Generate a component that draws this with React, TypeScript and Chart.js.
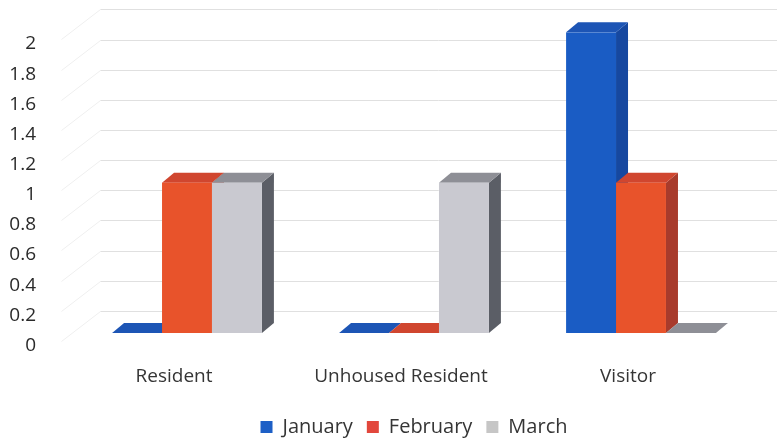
import React, { useEffect, useRef } from 'react';
import { Chart, registerables } from 'chart.js';

Chart.register(...registerables);

const categories = ['Resident', 'Unhoused Resident', 'Visitor'];
const seriesNames = ['January', 'February', 'March'];
const januaryValues = [0, 0, 2];
const februaryValues = [1, 0, 1];
const marchValues = [1, 1, 0];
const yTickValues = [0, 0.2, 0.4, 0.6, 0.8, 1, 1.2, 1.4, 1.6, 1.8, 2];
const yTickLabels = ['0', '0.2', '0.4', '0.6', '0.8', '1', '1.2', '1.4', '1.6', '1.8', '2'];
const wallTop = 2.2;

const FRONT = ['#1a5cc4', '#e8532b', '#c9c9d0'];
const TOP = ['#1d55b5', '#d0462f', '#8e8f96'];
const SIDE = ['#1648a0', '#a83b2c', '#5b5e66'];
const LEGEND = ['#1d5fc6', '#e2473c', '#c6c6c6'];
const TEXT = '#353535';
const FONT = '"Open Sans", sans-serif';
const DX = 12;
const DY = -10;

function poly(ctx: CanvasRenderingContext2D, color: string, pts: number[][]) {
  ctx.fillStyle = color;
  ctx.beginPath();
  ctx.moveTo(pts[0][0], pts[0][1]);
  for (let k = 1; k < pts.length; k++) ctx.lineTo(pts[k][0], pts[k][1]);
  ctx.closePath();
  ctx.fill();
}

const bar3dPlugin = {
  id: 'bar3d',
  beforeDatasetsDraw(chart: any) {
    const { ctx, chartArea } = chart;
    const wall = chart.scales.y2;
    const backLeft = chartArea.left + 27;
    ctx.save();
    ctx.lineWidth = 1;
    [...yTickValues, wallTop].forEach((v) => {
      if (v <= 0) return;
      const y = Math.round(wall.getPixelForValue(v)) + 0.5;
      ctx.strokeStyle = '#efefef';
      ctx.beginPath();
      ctx.moveTo(backLeft - 39, y + 30);
      ctx.lineTo(backLeft, y);
      ctx.stroke();
      ctx.strokeStyle = '#e0e0e0';
      ctx.beginPath();
      ctx.moveTo(backLeft, y);
      ctx.lineTo(chart.width, y);
      ctx.stroke();
    });
    const metas = chart
      .getSortedVisibleDatasetMetas()
      .slice()
      .sort((a: any, b: any) => a.index - b.index);
    for (let j = 0; j < categories.length; j++) {
      metas.forEach((meta: any) => {
        const el = meta.data[j];
        if (!el) return;
        const { x, y, base, width } = el.getProps(['x', 'y', 'base', 'width'], true);
        const i = meta.index;
        const l = x - width / 2;
        const r = x + width / 2;
        const t = Math.min(y, base);
        const b = Math.max(y, base);
        poly(ctx, SIDE[i], [[r, t], [r + DX, t + DY], [r + DX, b + DY], [r, b]]);
        poly(ctx, TOP[i], [[l, t], [l + DX, t + DY], [r + DX, t + DY], [r, t]]);
        ctx.fillStyle = FRONT[i];
        ctx.fillRect(l, t, width, b - t);
      });
    }
    ctx.restore();
    return false;
  },
};

export default function App() {
  const ref = useRef<HTMLCanvasElement | null>(null);
  useEffect(() => {
    if (!ref.current) return;
    const seriesValues = [januaryValues, februaryValues, marchValues];
    const chart = new Chart(ref.current, {
      type: 'bar',
      data: {
        labels: categories,
        datasets: seriesNames.map((name, i) => ({
          label: name,
          data: seriesValues[i],
          backgroundColor: LEGEND[i],
          borderWidth: 0,
        })),
      },
      options: {
        responsive: true,
        maintainAspectRatio: false,
        animation: false,
        layout: { padding: { top: 9, right: 22.5, bottom: 0, left: 0 } },
        datasets: { bar: { categoryPercentage: 0.66, barPercentage: 1 } },
        scales: {
          x: {
            type: 'category',
            grid: { display: false, drawTicks: false },
            border: { display: false },
            ticks: {
              labelOffset: -13,
              padding: 24,
              color: TEXT,
              maxRotation: 0,
              autoSkip: false,
              font: { family: FONT, size: 19 },
            },
            afterFit: (s: any) => {
              s.height = 62;
            },
          },
          y: {
            display: true,
            position: 'left',
            weight: 0,
            min: -0.0532,
            max: 2.1262,
            grid: { display: false, drawTicks: false },
            border: { display: false },
            ticks: { display: false },
            afterFit: (s: any) => {
              s.width = 35.5;
            },
          },
          y2: {
            type: 'linear',
            position: 'left',
            weight: 10,
            min: 0,
            max: 2.1735,
            grid: { display: false, drawTicks: false },
            border: { display: false },
            afterBuildTicks: (s: any) => {
              s.ticks = [...yTickValues, wallTop].map((v) => ({ value: v }));
            },
            ticks: {
              callback: (_v: any, idx: number) => yTickLabels[idx] ?? '',
              padding: 2,
              labelOffset: 4.5,
              color: '#2a2a2a',
              font: { family: FONT, size: 19 },
            },
            afterFit: (s: any) => {
              s.width = 38;
            },
          },
        },
        plugins: {
          legend: {
            position: 'bottom',
            fullSize: false,
            maxHeight: 39,
            labels: {
              boxWidth: 12,
              boxHeight: 12,
              padding: 14,
              color: TEXT,
              font: { family: FONT, size: 20 },
            },
          },
          tooltip: { enabled: false },
        },
      },
      plugins: [bar3dPlugin],
    } as any);
    return () => chart.destroy();
  }, []);
  return (
    <div style={{ position: 'fixed', left: 0, top: 0, width: 777, height: 442, background: '#fff' }}>
      <canvas ref={ref} />
    </div>
  );
}
